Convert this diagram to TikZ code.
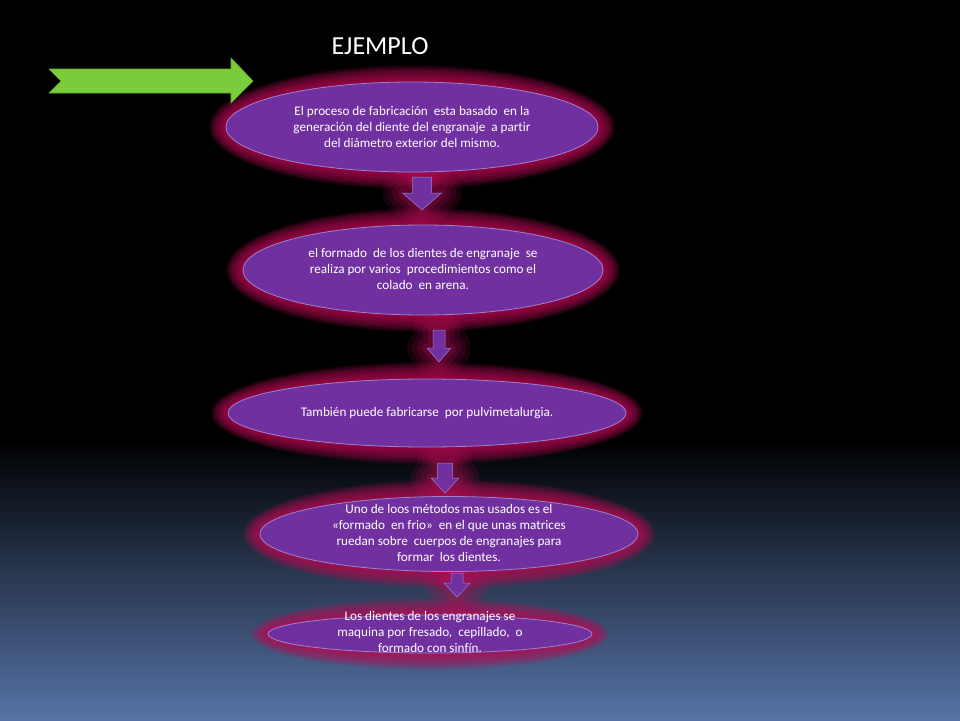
\documentclass[tikz,border=0pt]{standalone}
\usepackage{fontspec}
\setmainfont{Carlito}[Ligatures={NoCommon,NoContextual}]
\usetikzlibrary{shapes.geometric}
\definecolor{bgblue}{HTML}{5673A7}
\definecolor{ellfill}{HTML}{7030A0}
\definecolor{ellline}{HTML}{9C84CC}
\definecolor{glowc}{HTML}{B80C55}
\definecolor{arrgreen}{HTML}{7ACC3A}
\definecolor{arrgreenline}{HTML}{68A836}
\tikzset{
  ellbox/.style={ellipse, fill=ellfill, draw=ellline, line width=0.8pt, inner sep=0pt},
  txt/.style={text=white, font=\fontsize{13.2}{15.8}\selectfont, align=center, inner sep=0pt},
  downarr/.style={fill=ellfill, draw=ellline, line width=0.5pt},
  glowline/.style={draw=glowc, line join=round},
}
\newcommand\glowell[4]{%
  \foreach \k in {1,...,12}{\fill[glowc, opacity=0.12] (#1,#2) ellipse [x radius={#3pt+\k*1.4pt}, y radius={#4pt+\k*1.4pt}];}}
\newcommand\arrpath[6]{(#1-#5,#2) -- (#1+#5,#2) -- (#1+#5,#3) -- (#1+#6,#3) -- (#1,#4) -- (#1-#6,#3) -- (#1-#5,#3) -- cycle}
\newcommand\downarrglow[6]{%
  \foreach \w/\o in {40/0.13, 30/0.15, 20/0.18, 10/0.22}{\draw[glowline, opacity=\o, line width=\w pt] \arrpath{#1}{#2}{#3}{#4}{#5}{#6};}}
\newcommand\downarr[6]{\filldraw[downarr] \arrpath{#1}{#2}{#3}{#4}{#5}{#6};}
\begin{document}
\begin{tikzpicture}[x=1pt,y=-1pt]
\useasboundingbox (0,0) rectangle (960,720);
% background
\fill[black] (0,0) rectangle (960,441);
\shade[top color=black, bottom color=bgblue] (0,440) rectangle (960,720);
% glows
\glowell{412}{127}{186}{45}
\glowell{423}{270}{180}{45}
\glowell{427}{413}{199}{34}
\glowell{449}{534}{189}{37.5}
\glowell{430}{634}{162}{19}
\downarrglow{422}{177}{193}{210}{9.5}{19.5}
\downarrglow{439}{330}{348}{362}{6}{12}
\downarrglow{445}{463}{478}{493}{7.5}{14}
\downarrglow{457}{573}{583}{597}{6}{13}
% title
\node[text=white, font=\fontsize{26}{30}\selectfont, inner sep=0pt] (title) at (380,46) {EJEMPLO};
% green arrow
\filldraw[fill=arrgreen, draw=arrgreenline, line width=0.6pt] (49,69) -- (231,69) -- (231,58) -- (253,81) -- (231,103) -- (231,93) -- (49,93) -- (61,81) -- cycle;
% ellipses
\node[ellbox, minimum width=372pt, minimum height=90pt] (e1) at (412,127) {};
\node[ellbox, minimum width=360pt, minimum height=90pt] (e2) at (423,270) {};
\node[ellbox, minimum width=398pt, minimum height=68pt] (e3) at (427,413) {};
\node[ellbox, minimum width=378pt, minimum height=75pt] (e4) at (449,534) {};
\node[ellbox, minimum width=324pt, minimum height=38pt] (e5) at (430,634) {};
% down arrows
\downarr{422}{177}{193}{210}{9.5}{19.5}
\downarr{439}{330}{348}{362}{6}{12}
\downarr{445}{463}{478}{493}{7.5}{14}
\downarr{457}{573}{583}{597}{6}{13}
% texts
\node[txt] (t1) at (412,127) {El proceso de fabricación\ \ esta basado\ \ en la\\generación del diente del engranaje\ \ a partir\\del diámetro exterior del mismo.};
\node[txt] (t2) at (423,269) {el formado\ \ de los dientes de engranaje\ \ se\\realiza por varios\ \ procedimientos como el\\colado\ \ en arena.};
\node[txt] (t3) at (427,413) {También puede fabricarse\ \ por pulvimetalurgia.};
\node[txt] (t4) at (449,533) {Uno de loos métodos mas usados es el\\«formado\ \ en frio»\ \ en el que unas matrices\\ruedan sobre\ \ cuerpos de engranajes para\\formar\ \ los dientes.};
\node[txt] (t5) at (430,632) {Los dientes de los engranajes se\\maquina por fresado,\ \ cepillado,\ \ o\\formado con sinfín.};
\end{tikzpicture}
\end{document}
